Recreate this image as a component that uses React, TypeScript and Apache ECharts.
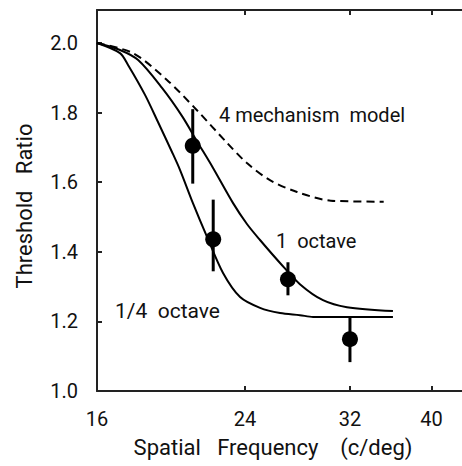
import React, { useEffect, useRef } from "react";
import * as echarts from "echarts";

const xTicks = [16, 24, 32, 40];
const yTicks = [1.0, 1.2, 1.4, 1.6, 1.8, 2.0];

const quarterOctave: [number, number][] = [
  [16, 2.0], [17.04, 1.971], [17.42, 1.937], [18.25, 1.851], [18.91, 1.773],
  [19.65, 1.687], [20.09, 1.635], [20.81, 1.54], [21.63, 1.443], [22.6, 1.339],
  [23.68, 1.27], [25.01, 1.239], [26.42, 1.224], [27.9, 1.218], [28.92, 1.213], [36.0, 1.213],
];

const oneOctave: [number, number][] = [
  [16, 2.0], [17.04, 1.98], [17.91, 1.951], [19.12, 1.871], [20.2, 1.79],
  [21.04, 1.718], [21.99, 1.641], [23.23, 1.54], [24.13, 1.48], [25.01, 1.434],
  [26.42, 1.368], [27.9, 1.307], [29.72, 1.261], [31.74, 1.241], [36.0, 1.23],
];

const fourMechanism: [number, number][] = [
  [16, 2.0], [17.66, 1.971], [19.38, 1.894], [21.04, 1.807], [22.85, 1.713],
  [24.13, 1.655], [25.7, 1.606], [27.68, 1.572], [30.37, 1.547], [35.1, 1.544],
];

const pointX = [20.8, 22.0, 27.0, 32.0];
const pointY = [1.705, 1.436, 1.321, 1.149];
const errLow = [1.596, 1.344, 1.275, 1.083];
const errHigh = [1.81, 1.55, 1.37, 1.212];

const FONT = "Roboto";
const INK = "#111";

export default function App() {
  const ref = useRef<HTMLDivElement>(null);
  useEffect(() => {
    const chart = echarts.init(ref.current!, null, { renderer: "svg" });
    const lineBase = {
      type: "line",
      showSymbol: false,
      smooth: 0.3,
      silent: true,
      z: 2,
    };
    chart.setOption({
      animation: false,
      backgroundColor: "#fff",
      grid: { left: 97, top: 10, right: 0, bottom: 75, containLabel: false, outerBoundsMode: "none" },
      xAxis: [
        {
          type: "log",
          logBase: 2,
          min: 16,
          max: 43.5,
          position: "bottom",
          name: "Spatial   Frequency    (c/deg)",
          nameLocation: "middle",
          nameGap: 45,
          nameTextStyle: { fontFamily: FONT, fontSize: 22, color: INK, padding: [0, 13, 0, 0] },
          axisLine: { show: true, lineStyle: { color: "#222", width: 2 } },
          axisTick: { show: true, inside: true, length: 5, customValues: xTicks, lineStyle: { color: "#222", width: 2 } },
          axisLabel: { show: true, customValues: xTicks, margin: 18, fontFamily: FONT, fontSize: 20, color: INK, formatter: (v: number) => String(Math.round(v)) },
          splitLine: { show: false },
          minorTick: { show: false },
        },
        {
          type: "log",
          logBase: 2,
          min: 16,
          max: 43.5,
          position: "top",
          axisLine: { show: true, onZero: false, lineStyle: { color: "#222", width: 2 } },
          axisTick: { show: true, inside: true, length: 5, customValues: [24, 32, 40], lineStyle: { color: "#222", width: 2 } },
          axisLabel: { show: false },
          splitLine: { show: false },
        },
      ],
      yAxis: {
        type: "value",
        min: 1.0,
        max: 2.095,
        name: "Threshold   Ratio",
        nameLocation: "middle",
        nameRotate: 90,
        nameGap: 62,
        nameTextStyle: { fontFamily: FONT, fontSize: 22, color: INK, padding: [0, 11, 0, 0] },
        axisLine: { show: true, onZero: false, lineStyle: { color: "#222", width: 2 } },
        axisTick: { show: true, inside: true, length: 5, customValues: yTicks, lineStyle: { color: "#222", width: 2 } },
        axisLabel: { customValues: yTicks, margin: 19, fontFamily: FONT, fontSize: 20, color: INK, formatter: (v: number) => v.toFixed(1) },
        splitLine: { show: false },
      },
      graphic: [
        { type: "text", x: 219, y: 115, style: { text: "4 mechanism  model", font: `20px ${FONT}`, fill: INK, verticalAlign: "middle" } },
        { type: "text", x: 276, y: 241, style: { text: "1  octave", font: `20px ${FONT}`, fill: INK, verticalAlign: "middle" } },
        { type: "text", x: 115, y: 311, style: { text: "1/4  octave", font: `21px ${FONT}`, fill: INK, verticalAlign: "middle" } },
      ],
      series: [
        { ...lineBase, name: "1/4 octave", data: quarterOctave, lineStyle: { color: "#000", width: 2 } },
        { ...lineBase, name: "1 octave", data: oneOctave, lineStyle: { color: "#000", width: 2 } },
        { ...lineBase, name: "4 mechanism model", data: fourMechanism, lineStyle: { color: "#000", width: 2, type: [8, 5] } },
        {
          type: "custom",
          name: "error",
          z: 3,
          silent: true,
          data: pointX.map((x, i) => [x, errLow[i], errHigh[i]]),
          renderItem: (_p: any, api: any) => {
            const x = api.value(0);
            const lo = api.coord([x, api.value(1)]);
            const hi = api.coord([x, api.value(2)]);
            return {
              type: "line",
              shape: { x1: lo[0], y1: lo[1], x2: hi[0], y2: hi[1] },
              style: { stroke: "#000", lineWidth: 3 },
            };
          },
        },
        {
          type: "scatter",
          name: "data",
          z: 4,
          silent: true,
          symbol: "circle",
          symbolSize: 16,
          itemStyle: { color: "#000", opacity: 1 },
          data: pointX.map((x, i) => [x, pointY[i]]),
        },
      ],
    });
    return () => chart.dispose();
  }, []);
  return <div ref={ref} style={{ position: "fixed", left: 0, top: 0, width: 462, height: 466 }} />;
}
